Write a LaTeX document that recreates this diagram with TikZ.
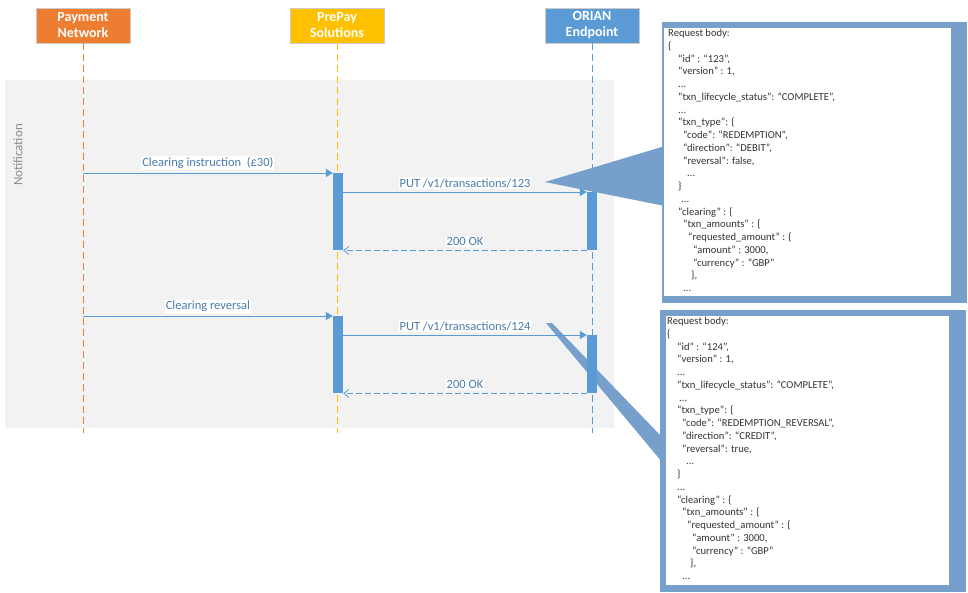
\documentclass[tikz,border=0pt]{standalone}
\usepackage{fontspec}
\setmainfont{Carlito}
\usetikzlibrary{arrows.meta}
\definecolor{pnorange}{HTML}{ED7D31}
\definecolor{ppgold}{HTML}{FFC000}
\definecolor{orblue}{HTML}{5B9BD5}
\definecolor{callblue}{HTML}{779FCC}
\definecolor{bandgray}{HTML}{F2F2F2}
\newcommand{\ind}[1]{\hspace*{#1pt}}
\tikzset{
  actor/.style={draw=white!80!black, text=white, font=\bfseries\fontsize{14}{16}\selectfont,
    minimum width=94pt, minimum height=35pt, align=center, inner sep=0pt},
  life/.style={dashed, dash pattern=on 7pt off 4pt, line width=0.8pt},
  act/.style={fill=orblue, draw=none, minimum width=10pt, inner sep=0pt},
  msg/.style={orblue, line width=0.8pt, -{Triangle[length=7pt,width=8pt]}},
  ret/.style={orblue, line width=0.8pt, dashed, dash pattern=on 6pt off 3pt, -{Straight Barb[length=5pt,width=8pt]}},
  lbl/.style={fill=white, text=orblue!80!black, font=\fontsize{12.5}{14}\selectfont, inner sep=1pt},
  body/.style={font=\fontsize{10.6}{12.75}\selectfont, text=black!80, align=left, anchor=north west, inner sep=0pt}
}
\begin{document}
\begin{tikzpicture}[x=1pt,y=-1pt]
\useasboundingbox (0,0) rectangle (968,592);
% band
\fill[bandgray] (5,80) rectangle (614,428);
\node[rotate=90, text=black!45, font=\fontsize{13}{15}\selectfont] (notif) at (18,155) {Notification};
% actors
\node[actor, fill=pnorange] (pn) at (83,25.5) {Payment\\Network};
\node[actor, fill=ppgold] (pp) at (337,25.5) {PrePay\\Solutions};
\node[actor, fill=orblue] (or) at (592,25.5) {ORIAN\\Endpoint};
\coordinate (pnend) at (83,433);
\coordinate (ppend) at (337,433);
\coordinate (orend) at (592,433);
\draw[life, pnorange] (pn.south) -- (pnend);
\draw[life, ppgold] (pp.south) -- (ppend);
\draw[life, orblue] (or.south) -- (orend);
% callouts
\fill[callblue] (545,182) -- (665,146) -- (665,206) -- cycle;
\fill[callblue] (662,22) rectangle (967,303);
\fill[white] (664,28) rectangle (951,296);
\fill[callblue] (546,323) -- (552,323) -- (662,437) -- (662,462) -- cycle;
\fill[callblue] (660,310) rectangle (966,592);
\fill[white] (666,316) rectangle (949,585);
\node[body] (body1) at (668,29) {Request body:\\
\ind{0}\{\\
\ind{10}“id” : “123”,\\
\ind{10}“version” : 1,\\
\ind{10}...\\
\ind{10}“txn\_lifecycle\_status”: “COMPLETE”,\\
\ind{10}...\\
\ind{10}“txn\_type”: \{\\
\ind{15}“code”: “REDEMPTION”,\\
\ind{15}“direction”: “DEBIT”,\\
\ind{15}“reversal”: false,\\
\ind{19}...\\
\ind{10}\}\\
\ind{13}...\\
\ind{10}“clearing” : \{\\
\ind{15}“txn\_amounts” : \{\\
\ind{20}“requested\_amount” : \{\\
\ind{25}“amount” : 3000,\\
\ind{25}“currency” : “GBP”\\
\ind{23}\},\\
\ind{15}...};
\node[body] (body2) at (667,317) {Request body:\\
\ind{0}\{\\
\ind{10}“id” : “124”,\\
\ind{10}“version” : 1,\\
\ind{10}...\\
\ind{10}“txn\_lifecycle\_status”: “COMPLETE”,\\
\ind{12}...\\
\ind{10}“txn\_type”: \{\\
\ind{15}“code”: “REDEMPTION\_REVERSAL”,\\
\ind{15}“direction”: “CREDIT”,\\
\ind{15}“reversal”: true,\\
\ind{19}...\\
\ind{10}\}\\
\ind{10}...\\
\ind{10}“clearing” : \{\\
\ind{15}“txn\_amounts” : \{\\
\ind{20}“requested\_amount” : \{\\
\ind{25}“amount” : 3000,\\
\ind{25}“currency” : “GBP”\\
\ind{23}\},\\
\ind{15}...};
% first exchange
\node[act, minimum height=77pt, anchor=north] (pa1) at (338,173) {};
\node[act, minimum height=58pt, anchor=north] (oa1) at (592,192) {};
\coordinate (pn1) at (83,173);
\draw[msg] (pn1) -- (pn1 -| pa1.west) node[lbl, midway, above=3pt] (m1) {Clearing instruction \ (£30)};
\draw[msg] (pa1.east |- oa1.north) -- (oa1.north west) node[lbl, midway, above=3pt] (m2) {PUT /v1/transactions/123};
\draw[ret] (oa1.south west) -- (oa1.south west -| pa1.east) node[lbl, midway, above=3pt] (m3) {200 OK};
% second exchange
\node[act, minimum height=77pt, anchor=north] (pa2) at (338,316) {};
\node[act, minimum height=58pt, anchor=north] (oa2) at (592,335) {};
\coordinate (pn2) at (83,316);
\draw[msg] (pn2) -- (pn2 -| pa2.west) node[lbl, midway, above=3pt] (m4) {Clearing reversal};
\draw[msg] (pa2.east |- oa2.north) -- (oa2.north west) node[lbl, midway, above=3pt] (m5) {PUT /v1/transactions/124};
\draw[ret] (oa2.south west) -- (oa2.south west -| pa2.east) node[lbl, midway, above=3pt] (m6) {200 OK};
\end{tikzpicture}
\end{document}
